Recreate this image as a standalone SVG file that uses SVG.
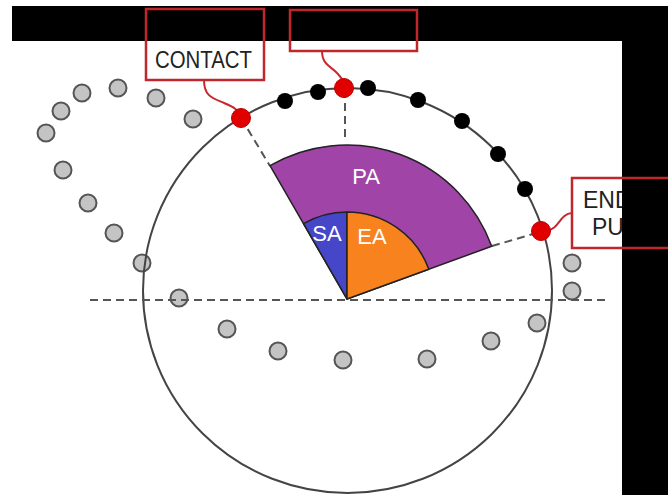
<svg xmlns="http://www.w3.org/2000/svg" width="668" height="495" viewBox="0 0 668 495">
<defs>
<style>
.dash{stroke:#555;stroke-width:2;stroke-dasharray:8 5;fill:none}
.grey{fill:#c4c4c4;stroke:#555;stroke-width:2}
.blk{fill:#000}
.red{fill:#e00000;stroke:#c00000;stroke-width:1}
.lead{fill:none;stroke:#c8282d;stroke-width:2}
.box{fill:none;stroke:#c0272d;stroke-width:2.5}
.lbl{font-family:"Liberation Sans",Arial,sans-serif;font-size:23px;fill:#222}
.wl{font-family:"Liberation Sans",Arial,sans-serif;font-size:22px;fill:#fff}
.sec{stroke:#222;stroke-width:1.5;stroke-linejoin:round}
</style>
</defs>
<rect x="0" y="0" width="668" height="495" fill="#fff"/>
<g id="trajectory">
<circle class="grey" cx="82" cy="93" r="8.5"/>
<circle class="grey" cx="118" cy="88" r="8.5"/>
<circle class="grey" cx="156" cy="98" r="8.5"/>
<circle class="grey" cx="193" cy="119" r="8.5"/>
<circle class="grey" cx="61" cy="111" r="8.5"/>
<circle class="grey" cx="46" cy="133" r="8.5"/>
<circle class="grey" cx="63" cy="170" r="8.5"/>
<circle class="grey" cx="88" cy="203" r="8.5"/>
<circle class="grey" cx="114" cy="233" r="8.5"/>
<circle class="grey" cx="142" cy="263" r="8.5"/>
<circle class="grey" cx="179" cy="298" r="8.5"/>
<circle class="grey" cx="227" cy="329" r="8.5"/>
<circle class="grey" cx="278" cy="351" r="8.5"/>
<circle class="grey" cx="343" cy="360" r="8.5"/>
<circle class="grey" cx="427" cy="359" r="8.5"/>
<circle class="grey" cx="491" cy="341" r="8.5"/>
<circle class="grey" cx="537" cy="323" r="8.5"/>
<circle class="grey" cx="572" cy="263" r="8.5"/>
<circle class="grey" cx="572" cy="291" r="8.5"/>
</g>
<g id="circle">
<ellipse cx="347.5" cy="290.5" rx="204.5" ry="202.5" fill="none" stroke="#444" stroke-width="2"/>
</g>
<g id="connectors">
<line class="dash" x1="90" y1="300" x2="606" y2="300"/>
<line class="dash" x1="345" y1="90" x2="345" y2="142"/>
<line class="dash" x1="241" y1="118" x2="270" y2="166"/>
<line class="dash" x1="492" y1="246" x2="540" y2="232"/>
<path class="lead" d="M204 80 C204 96 212 98 224 103 S238 110 241 118"/>
<path class="lead" d="M322 51 C322 64 330 66 336 72 S343 80 344 88"/>
<path class="lead" d="M546 231 C560 229 559 214 572 213"/>
</g>
<g id="wedges">
<path id="PA" class="sec" fill="#a044a8" d="M347 299 L270 165.6 A154 154 0 0 1 491.7 246.3 Z"/>
<path id="SA" class="sec" fill="#4646c8" d="M347 299 L303.5 223.7 A87 87 0 0 1 347 212 Z"/>
<path id="EA" class="sec" fill="#f7821e" d="M347 299 L347 212 A87 87 0 0 1 428.8 269.2 Z"/>
<text class="wl" x="366" y="184" text-anchor="middle">PA</text>
<text class="wl" x="327" y="241" text-anchor="middle">SA</text>
<text class="wl" x="372" y="244" text-anchor="middle">EA</text>
</g>
<g id="contact-points">
<circle cx="285" cy="101" r="8" class="blk"/>
<circle cx="318" cy="92" r="8" class="blk"/>
<circle cx="368" cy="88" r="8" class="blk"/>
<circle cx="418" cy="100" r="8" class="blk"/>
<circle cx="462" cy="121" r="8" class="blk"/>
<circle cx="498" cy="154" r="8" class="blk"/>
<circle cx="525" cy="189" r="8" class="blk"/>
<circle cx="241" cy="118" r="9.5" class="red"/>
<circle cx="344" cy="88" r="9.5" class="red"/>
<circle cx="541" cy="231" r="9.5" class="red"/>
</g>
<g id="label-contact">
<text class="lbl" x="155" y="68" textLength="97" lengthAdjust="spacingAndGlyphs">CONTACT</text>
</g>
<g id="label-end">
<text class="lbl" x="583" y="208">END</text>
<text class="lbl" x="592" y="235">PU</text>
</g>
<g id="masks">
<rect x="12" y="6" width="656" height="35" fill="#000"/>
<rect x="622" y="6" width="46" height="489" fill="#000"/>
</g>
<g id="boxes">
<rect class="box" x="146" y="9" width="118" height="71"/>
<rect class="box" x="290" y="10" width="127" height="41"/>
<rect class="box" x="572" y="178" width="100" height="70"/>
</g>
</svg>
